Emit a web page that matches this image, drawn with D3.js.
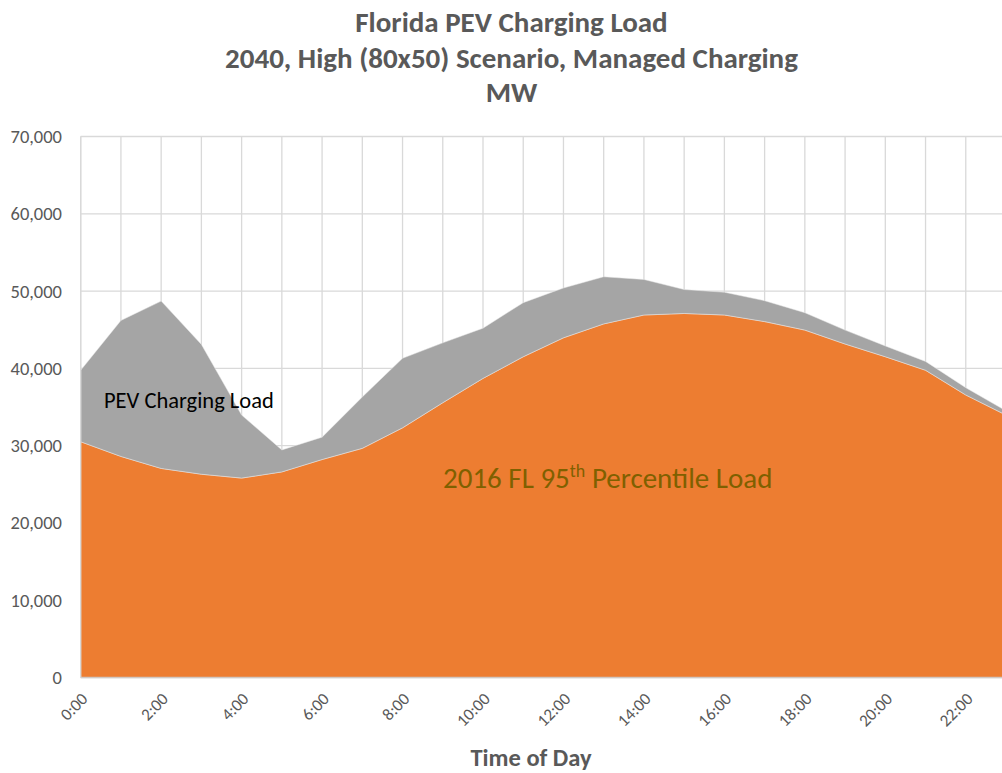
<!DOCTYPE html>
<html>
<head>
<meta charset="utf-8">
<script src="https://cdn.jsdelivr.net/npm/d3@7"></script>
<style>
  body { margin: 0; background: #fff; }
  svg { display: block; font-family: Carlito, Calibri, Lato, sans-serif; }
</style>
</head>
<body>
<svg id="chart" width="1002" height="773"></svg>
<script>
// hours of the day, 0..23
var hours = [0,1,2,3,4,5,6,7,8,9,10,11,12,13,14,15,16,17,18,19,20,21,22,23]

// 2016 FL 95th percentile load (MW)
var baseLoad = [30500, 28600, 27050, 26300, 25800, 26600, 28200, 29650, 32300, 35550, 38700, 41500,
                43950, 45750, 46900, 47100, 46900, 46050, 44950, 43150, 41500, 39750, 36550, 33950]

// PEV charging load stacked on top (MW)
var pevLoad = [9250, 17600, 21650, 16800, 8150, 2850, 2900, 6650, 9000, 7750, 6500, 7000,
               6450, 6100, 4600, 3100, 2950, 2700, 2250, 1800, 1400, 1150, 950, 550]

var yTicks = [0, 10000, 20000, 30000, 40000, 50000, 60000, 70000]
var xTicks = [0, 2, 4, 6, 8, 10, 12, 14, 16, 18, 20, 22]

var titleLines = ['Florida PEV Charging Load', '2040, High (80x50) Scenario, Managed Charging', 'MW']

var rows = hours.map(function (h, i) {
  return { hour: h, base: baseLoad[i], pev: pevLoad[i] }
})

var svg = d3.select('#chart')

// scales - the plot runs a bit past the right edge of the picture
var x = d3.scaleLinear().domain([0, 23]).range([80.7, 1006])
var y = d3.scaleLinear().domain([0, 70000]).range([677.5, 136.5])

// gridlines
svg.append('g')
  .selectAll('line.h')
  .data(yTicks)
  .enter().append('line')
  .attr('x1', x(0)).attr('x2', x(23))
  .attr('y1', function (d) { return y(d) }).attr('y2', function (d) { return y(d) })
  .attr('stroke', '#d9d9d9').attr('stroke-width', 1.3)

svg.append('g')
  .selectAll('line.v')
  .data(hours)
  .enter().append('line')
  .attr('x1', function (d) { return x(d) }).attr('x2', function (d) { return x(d) })
  .attr('y1', y(0)).attr('y2', y(70000))
  .attr('stroke', '#d9d9d9').attr('stroke-width', 1.3)

// stacked areas
var stack = d3.stack().keys(['base', 'pev'])
var series = stack(rows)
var colors = { base: '#ed7d31', pev: '#a5a5a5' }

var area = d3.area()
  .x(function (d) { return x(d.data.hour) })
  .y0(function (d) { return y(d[0]) })
  .y1(function (d) { return y(d[1]) })

svg.append('g')
  .selectAll('path')
  .data(series)
  .enter().append('path')
  .attr('d', area)
  .attr('fill', function (d) { return colors[d.key] })
  .attr('stroke', '#e8e8e8')
  .attr('stroke-width', 0.5)

// axis lines
svg.append('line')
  .attr('x1', x(0)).attr('x2', x(23))
  .attr('y1', y(0)).attr('y2', y(0))
  .attr('stroke', '#d0c8c4').attr('stroke-width', 1.3)
svg.append('line')
  .attr('x1', x(0)).attr('x2', x(0))
  .attr('y1', y(0)).attr('y2', y(70000))
  .attr('stroke', '#d9d9d9').attr('stroke-width', 1.3)

// y axis labels
svg.append('g')
  .selectAll('text')
  .data(yTicks)
  .enter().append('text')
  .attr('x', 62)
  .attr('y', function (d) { return y(d) })
  .attr('dy', '0.35em')
  .attr('text-anchor', 'end')
  .attr('fill', '#595959')
  .attr('font-size', 18.5)
  .text(function (d) { return d3.format(',')(d) })

// x axis labels, rotated
svg.append('g')
  .selectAll('text')
  .data(xTicks)
  .enter().append('text')
  .attr('transform', function (d) { return 'translate(' + (x(d) - 1) + ',691) rotate(-45)' })
  .attr('text-anchor', 'end')
  .attr('dy', '0.75em')
  .attr('fill', '#595959')
  .attr('font-size', 17)
  .text(function (d) { return d + ':00' })

// titles
svg.append('g')
  .selectAll('text')
  .data(titleLines)
  .enter().append('text')
  .attr('x', 511.5)
  .attr('y', function (d, i) { return [32, 68, 102][i] })
  .attr('text-anchor', 'middle')
  .attr('font-weight', 'bold')
  .attr('font-size', 29)
  .attr('fill', '#595959')
  .text(function (d) { return d })

svg.append('text')
  .attr('x', 531).attr('y', 766)
  .attr('text-anchor', 'middle')
  .attr('font-weight', 'bold')
  .attr('font-size', 24.5)
  .attr('fill', '#595959')
  .text('Time of Day')

// in-chart labels
svg.append('text')
  .attr('x', 104).attr('y', 408)
  .attr('font-size', 22.5)
  .attr('fill', '#000')
  .text('PEV Charging Load')

var big = svg.append('text')
  .attr('x', 443).attr('y', 488)
  .attr('font-size', 29)
  .attr('fill', '#7f6000')
big.append('tspan').text('2016 FL 95')
big.append('tspan').attr('font-size', 18).attr('dy', -11).text('th')
big.append('tspan').attr('dy', 11).text(' Percentile Load')
</script>
</body>
</html>
